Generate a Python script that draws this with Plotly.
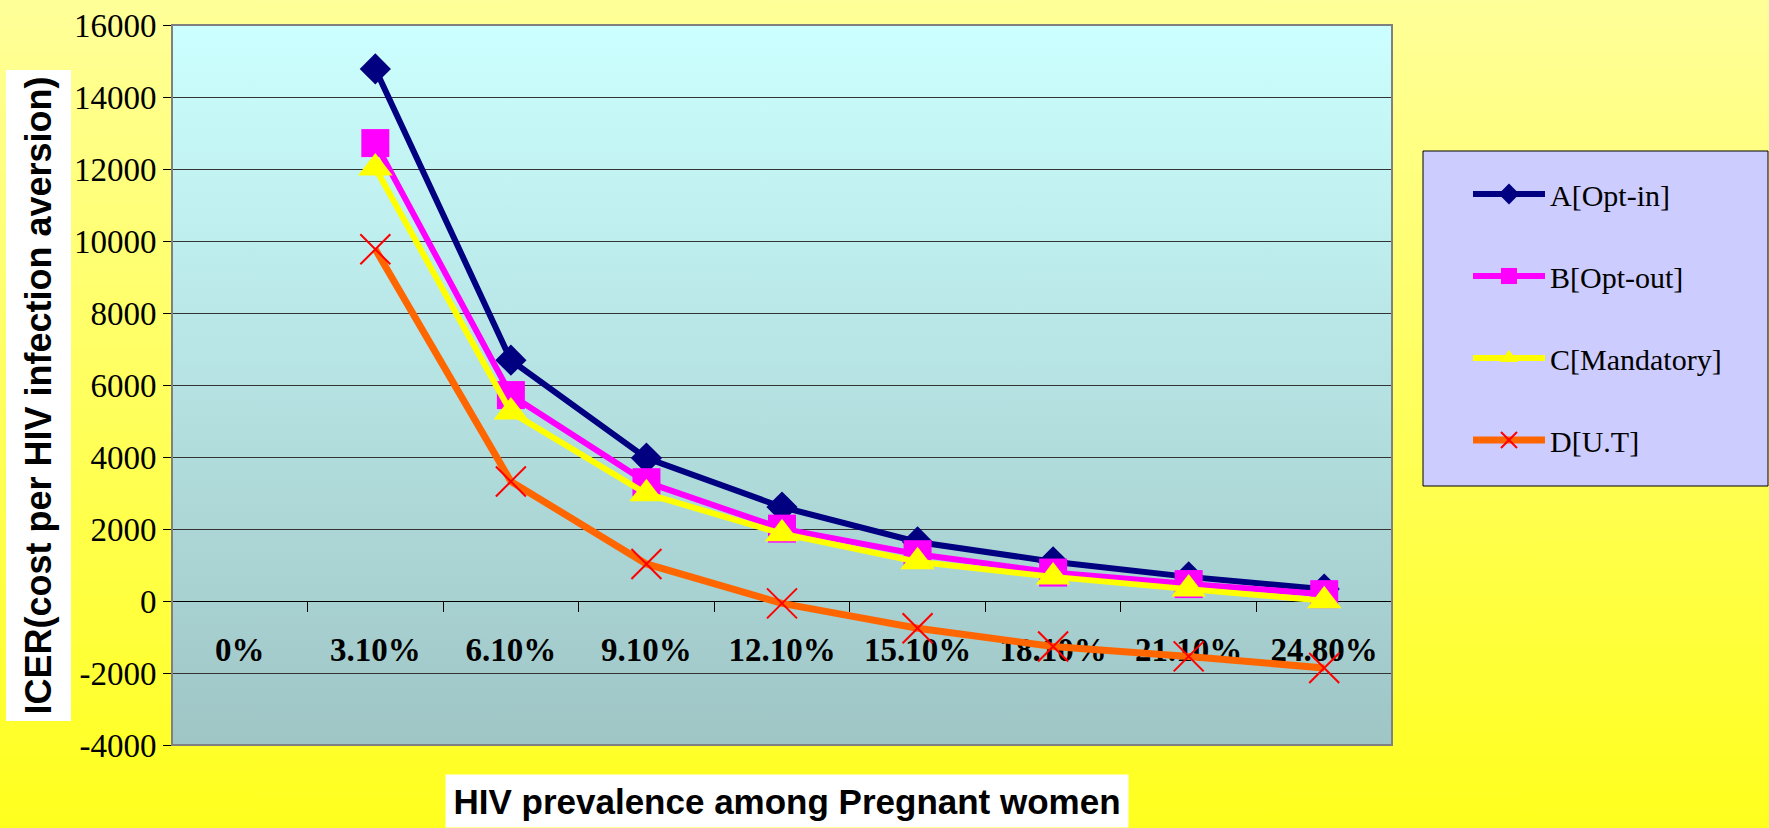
import base64
import plotly.graph_objects as go

# ---------------- data ----------------
categories = ["0%", "3.10%", "6.10%", "9.10%", "12.10%", "15.10%", "18.10%", "21.10%", "24.80%"]
opt_in = [None, 14780, 6690, 3970, 2610, 1640, 1090, 670, 330]
opt_out = [None, 12720, 5720, 3300, 2010, 1300, 790, 470, 190]
mandatory = [None, 12030, 5250, 2980, 1870, 1090, 670, 330, 10]
ut = [None, 9770, 3320, 1030, -65, -756, -1263, -1539, -1862]
series_names = ["A[Opt-in]", "B[Opt-out]", "C[Mandatory]", "D[U.T]"]
y_ticks = [-4000, -2000, 0, 2000, 4000, 6000, 8000, 10000, 12000, 14000, 16000]

# ---------------- layout constants ----------------
W, H = 1769, 828
px_l, px_r, px_t, px_b = 172, 1392, 25, 745
xd = [px_l / W, px_r / W]
yd = [1 - px_b / H, 1 - px_t / H]
y_min, y_max = -4000, 16000
zero_pos = yd[0] + (0 - y_min) / (y_max - y_min) * (yd[1] - yd[0])


def grad(top, bottom):
    svg = ('<svg xmlns="http://www.w3.org/2000/svg" width="100" height="100" viewBox="0 0 100 100" '
           'preserveAspectRatio="none"><defs><linearGradient id="g" x1="0" y1="0" x2="0" y2="1">'
           f'<stop offset="0" stop-color="{top}"/><stop offset="1" stop-color="{bottom}"/>'
           '</linearGradient></defs><rect width="100" height="100" fill="url(#g)"/></svg>')
    return "data:image/svg+xml;base64," + base64.b64encode(svg.encode()).decode()


fig = go.Figure()

styles = [
    dict(line=dict(color="#000080", width=6), marker=dict(symbol="diamond", size=24, color="#000080")),
    dict(line=dict(color="#FF00FF", width=6), marker=dict(symbol="square", size=28, color="#FF00FF")),
    dict(line=dict(color="#FFFF00", width=6), marker=dict(symbol="triangle-up", size=30, color="#FFFF00")),
    dict(line=dict(color="#FF6600", width=7),
         marker=dict(symbol="x-thin", size=30, color="#FF0000", line=dict(color="#FF0000", width=2))),
]
for name, vals, st in zip(series_names, [opt_in, opt_out, mandatory, ut], styles):
    fig.add_trace(go.Scatter(x=categories, y=vals, name=name, mode="lines+markers",
                             legendgroup=name, line=st["line"], marker=st["marker"],
                             connectgaps=False))

fig.update_layout(
    width=W, height=H,
    margin=dict(l=0, r=0, t=0, b=0, autoexpand=False),
    paper_bgcolor="#FFFF55",
    plot_bgcolor="rgba(0,0,0,0)",
    images=[
        dict(source=grad("#FFFF99", "#FFFF1E"), xref="paper", yref="paper", x=0, y=1,
             sizex=1, sizey=1, sizing="stretch", xanchor="left", yanchor="top", layer="below"),
        dict(source=grad("#CCFFFF", "#9FC5C5"), xref="paper", yref="paper", x=xd[0], y=yd[1],
             sizex=xd[1] - xd[0], sizey=yd[1] - yd[0], sizing="stretch",
             xanchor="left", yanchor="top", layer="below"),
    ],
    xaxis=dict(domain=xd, type="category", categoryorder="array", categoryarray=categories,
               range=[-0.5, len(categories) - 0.5], anchor="free", position=zero_pos,
               automargin=False,
               showline=True, linecolor="black", linewidth=1, showgrid=False,
               ticks="outside", tickson="boundaries", ticklen=10, tickcolor="black", tickwidth=1,
               tickfont=dict(family="Liberation Serif", size=33, color="black", weight="bold"),
               ticklabelstandoff=19, layer="below traces"),
    yaxis=dict(domain=yd, range=[y_min, y_max], tickvals=y_ticks,
               ticktext=[str(v) for v in y_ticks], automargin=False,
               showgrid=True, gridcolor="#333333", gridwidth=1, zeroline=False,
               showline=False, ticks="outside", ticklen=8, tickcolor="black",
               tickfont=dict(family="Liberation Serif", size=33, color="black")),
    legend=dict(x=1468 / W, y=1 - 168 / H, xanchor="left", yanchor="top",
                bgcolor="rgba(0,0,0,0)", borderwidth=0, itemwidth=72,
                font=dict(family="Liberation Serif", size=30, color="black"),
                tracegroupgap=40, traceorder="grouped", itemsizing="trace"),
    shapes=[
        dict(type="rect", xref="paper", yref="paper", x0=xd[0], x1=xd[1], y0=yd[0], y1=yd[1],
             line=dict(color="#808080", width=2), layer="above"),
        dict(type="rect", xref="paper", yref="paper", x0=1423 / W, x1=1768 / W,
             y0=1 - 486 / H, y1=1 - 151 / H, fillcolor="#CCCCFF",
             line=dict(color="black", width=1), layer="below"),
    ],
    annotations=[
        dict(text="<b>ICER(cost per HIV infection aversion)</b>", textangle=-90,
             xref="paper", yref="paper", x=38.5 / W, y=1 - 396 / H, showarrow=False,
             xanchor="center", yanchor="middle", bgcolor="white", borderpad=0,
             width=650, height=64,
             font=dict(family="Liberation Sans", size=36, color="black")),
        dict(text="<b>HIV prevalence among Pregnant women</b>",
             xref="paper", yref="paper", x=787 / W, y=0, showarrow=False,
             xanchor="center", yanchor="bottom", bgcolor="white", borderpad=0,
             width=682, height=52,
             font=dict(family="Liberation Sans", size=35, color="black")),
    ],
)

fig.write_html("out.html", config={"displayModeBar": False},
               post_script="document.body.style.margin='0';")
